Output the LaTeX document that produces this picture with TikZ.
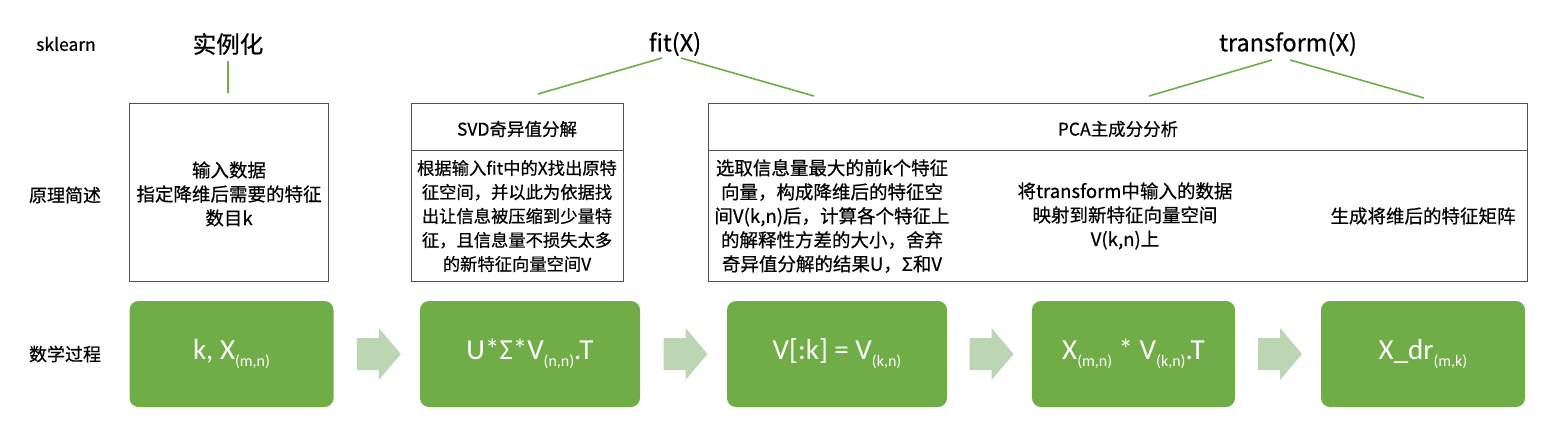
\documentclass[tikz,border=0pt]{standalone}
\usepackage{fontspec}
\setmainfont{Carlito}
\newfontfamily\cjk{Noto Sans CJK SC}[FakeBold=0.6]
\usetikzlibrary{calc}
\definecolor{grn}{HTML}{70AD47}
\definecolor{lgrn}{HTML}{BCD5B3}
\definecolor{bord}{HTML}{505050}
\newcommand{\subx}[1]{\raisebox{-0.25em}{\fontsize{16}{16}\selectfont #1}}
\tikzset{
  lbl/.style={font=\cjk\fontsize{18}{20}\selectfont, inner sep=0pt},
  big/.style={font=\cjk\fontsize{23.5}{26}\selectfont, inner sep=0pt},
  conn/.style={draw=grn, line width=1.6pt},
  frame/.style={draw=bord, line width=0.9pt},
  body/.style={font=\cjk\fontsize{18.5}{24}\selectfont, align=center, inner sep=0pt},
  hdr/.style={font=\cjk\fontsize{17.5}{20}\selectfont, inner sep=0pt},
  gbox/.style={fill=grn, rounded corners=9pt, font=\fontsize{29}{32}\selectfont, text=white, inner sep=0pt},
  garrow/.style={fill=lgrn, draw=none},
}
\begin{document}
\begin{tikzpicture}[x=1pt,y=-1pt]
\useasboundingbox (0,0) rectangle (1562,441);
% row labels
\node[lbl, font=\cjk\fontsize{17.5}{20}\selectfont] (sk) at (66,44) {sklearn};
\node[lbl] (yl) at (65,195) {原理简述};
\node[lbl] (sx) at (65,354) {数学过程};
% top labels
\node[big] (inst) at (228,44) {实例化};
\node[big] (fit) at (675,44) {fit(X)};
\node[big] (tr) at (1288,44) {transform(X)};
\coordinate (i1) at (228,61); \coordinate (i2) at (228,93);
\coordinate (f0) at (662,58); \coordinate (f1) at (538,94);
\coordinate (f2) at (681,58); \coordinate (f3) at (814,96);
\coordinate (t0) at (1272,60); \coordinate (t1) at (1149,96);
\coordinate (t2) at (1290,60); \coordinate (t3) at (1424,98);
\draw[conn] (i1) -- (i2);
\draw[conn] (f0) -- (f1);
\draw[conn] (f2) -- (f3);
\draw[conn] (t0) -- (t1);
\draw[conn] (t2) -- (t3);
% frames
\draw[frame] (129,103) rectangle (328,281);
\draw[frame] (411,103) rectangle (623,281);
\draw[frame] (411,150) -- (623,150);
\draw[frame] (708,103) rectangle (1527,281);
\draw[frame] (708,150) -- (1527,150);
% frame texts
\node[body] (b1) at (229,194) {输入数据\\指定降维后需要的特征\\数目k};
\node[hdr] (h2) at (517,129) {SVD奇异值分解};
\node[body, font=\cjk\fontsize{17.3}{24}\selectfont] (b2) at (517,216) {根据输入fit中的X找出原特\\征空间，并以此为依据找\\出让信息被压缩到少量特\\征，且信息量不损失太多\\的新特征向量空间V};
\node[hdr] (h3) at (1118,129) {PCA主成分分析};
\node[body] (b3) at (832,216) {选取信息量最大的前k个特征\\向量，构成降维后的特征空\\间V(k,n)后，计算各个特征上\\的解释性方差的大小，舍弃\\奇异值分解的结果U，Σ和V};
\node[body] (b4) at (1125,216) {将transform中输入的数据\\映射到新特征向量空间\\V(k,n)上};
\node[body] (b5) at (1423,216) {生成将维后的特征矩阵};
% green boxes
\node[gbox, minimum width=204pt, minimum height=106pt] (g1) at (231.5,354) {k, X\subx{(m,n)}};
\node[gbox, minimum width=220pt, minimum height=106pt] (g2) at (530,354) {U*Σ*V\subx{(n,n)}.T};
\node[gbox, minimum width=220pt, minimum height=106pt] (g3) at (837,354) {V[:k] = V\subx{(k,n)}};
\node[gbox, minimum width=203pt, minimum height=106pt] (g4) at (1133.5,354) {X\subx{(m,n)} * V\subx{(k,n)}.T};
\node[gbox, minimum width=204pt, minimum height=106pt] (g5) at (1423,354) {X\_dr\subx{(m,k)}};
% arrows
\coordinate (m1) at ($(g1.east)!0.5!(g2.west)$);
\coordinate (m2) at ($(g2.east)!0.5!(g3.west)$);
\coordinate (m3) at ($(g3.east)!0.5!(g4.west)$);
\coordinate (m4) at ($(g4.east)!0.5!(g5.west)$);
\foreach \m in {m1,m2,m3,m4}{
  \fill[garrow] ($(\m)+(-20,-16)$) -- ($(\m)+(2,-16)$) -- ($(\m)+(2,-26)$) -- ($(\m)+(24,0)$) -- ($(\m)+(2,26)$) -- ($(\m)+(2,16)$) -- ($(\m)+(-20,16)$) -- cycle;
}
\end{tikzpicture}
\end{document}
